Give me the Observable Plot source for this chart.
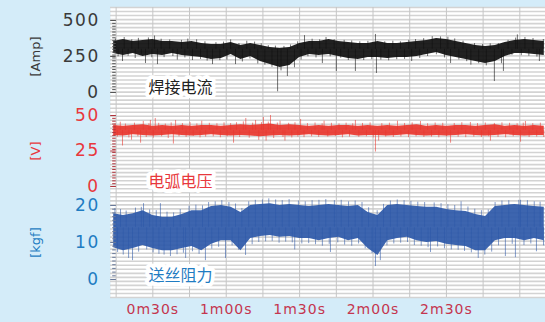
<!DOCTYPE html>
<html><head><meta charset="utf-8">
<script src="https://cdn.jsdelivr.net/npm/d3@7"></script>
<script src="https://cdn.jsdelivr.net/npm/@observablehq/plot@0.6"></script>
<style>
html,body{margin:0;padding:0;background:#d4ecf9;}
#chart{position:relative;width:545px;height:322px;background:#d4ecf9;overflow:hidden;}
#chart svg{position:absolute;left:0;top:0;}
</style></head><body><div id="chart"></div>
<script>
// ---- data (time in seconds) ----
const times = [14,18,22,26,30,34,38,42,46,50,54,58,62,66,70,74,78,82,86,90,94,98,102,106,110,114,118,122,126,130,134,138,142,146,150,154,158,162,166,170,174,178,182,186,190];

// welding current [Amp]: envelope + spikes
const currentHi = [354,368,354,361,368,354,354,347,354,340,333,333,347,326,340,326,312,306,312,340,354,354,368,354,347,340,340,354,340,340,347,354,361,375,368,354,340,326,319,326,347,361,368,361,354];
const currentLo = [271,257,271,250,264,257,271,257,250,243,229,236,264,229,250,215,194,174,188,243,264,257,264,250,236,229,243,243,236,243,243,250,264,278,257,243,229,215,201,215,250,271,271,264,257];
const currentSpikes = [[14.7,372],[15.8,248],[17.6,215],[18.3,382],[19.9,252],[21.4,366],[22.8,236],[24.1,376],[25.3,262],[27,201],[28.2,379],[29.6,241],[30.7,392],[31.9,194],[33.4,370],[34.6,242],[36.9,365],[38.2,250],[40,225],[41.7,362],[43.1,240],[44.3,371],[46.2,222],[47.9,366],[49.5,230],[51.3,352],[52.2,218],[54.4,194],[55.8,346],[57.4,221],[58.9,350],[60.3,225],[61.8,365],[63.8,194],[65.2,340],[66.6,212],[68.4,356],[69.7,233],[71.6,350],[72.9,198],[74.3,338],[75.8,190],[77.2,325],[78.7,175],[80.1,322],[81,5],[82.4,150],[83.6,320],[85,111],[86.3,330],[87.9,172],[89.2,352],[90.6,226],[92,395],[93.4,248],[95.1,370],[96.7,240],[98.2,366],[99.3,201],[100.8,382],[102.5,248],[104.1,367],[105,146],[106.8,238],[108.2,362],[109.9,222],[111.3,358],[112.8,146],[114.6,352],[116.2,222],[117.9,355],[119.5,228],[121,403],[121.4,132],[123.2,225],[124.8,352],[126.4,220],[128.1,356],[129.7,228],[131.2,352],[132.9,230],[134.6,362],[135.8,215],[137.4,368],[139.1,236],[140.7,374],[142.3,250],[144.2,388],[145.9,262],[147.6,386],[149.2,240],[150.6,384],[151.7,201],[153.4,372],[155.1,226],[156.8,356],[158.3,214],[160,190],[161.5,340],[163.2,200],[164.8,333],[166.3,185],[167.9,338],[169.6,76],[171.2,340],[172.5,200],[173.3,146],[175.2,362],[176.8,258],[178.3,378],[179,400],[180.6,256],[182.1,382],[183.7,252],[185.4,375],[187,246],[188,215],[189.6,368]];
const currentLevel = 300;

// arc voltage [V]
const voltHi = [43,42.5,43,43.5,42.5,43,42.5,43,42.5,43,43,42.5,43,43.5,43,43.5,44,43,43.5,43,42.5,43,42.5,43,43,42.5,43,42.5,43,42.5,43,43.5,42.5,43,42.5,43,43,42.5,43,43.5,42.5,43,42.5,43,42.5];
const voltLo = [36,35.5,36.5,36,35.5,36,36.5,36,35.5,36,36.5,36,35.5,36,35.5,35,35.5,36,35.5,36,36.5,36,35.5,36,36.5,35.5,36,36,35.5,36,36.5,36,35.5,36,35.5,36,36.5,36,35.5,36,36.5,36,35.5,36,36];
const voltSpikes = [[14.6,44.2],[15.5,34.8],[16.7,45.3],[17.6,28.5],[18.8,44],[20.2,34.2],[21.3,32.6],[22.5,44.6],[23.9,35],[25,30.5],[26.1,45.8],[27.3,34.5],[28.4,44.2],[29,46.5],[30.2,34],[31,47.9],[32.4,44.5],[33.6,35],[35.1,44],[36.3,33.8],[37.5,44.8],[38.4,29.9],[39.3,46.5],[40.7,35],[42.1,44.3],[43.6,34.6],[45.2,45],[46.5,35.2],[48,44.1],[49.3,34.2],[50,46],[51.6,34.8],[53.1,44.5],[54.7,35],[56.2,44.2],[57.6,34.3],[59.1,44.8],[60.4,35],[61.8,44.3],[63,30.5],[64.2,44.9],[65.5,34.5],[67,45.5],[68,47.9],[69.4,34],[70.8,44.6],[72,46.5],[73.3,32.5],[74.4,45],[75.2,48.6],[76.3,32],[77.2,45.4],[78.1,50],[79.4,33.8],[80.9,44.7],[82,46],[83.2,34.5],[84,32],[85.5,44.5],[86.8,34.2],[88.1,44.9],[89.3,34.8],[90.4,47.2],[91.8,34.4],[93.2,44.3],[94.9,35],[96.3,44.7],[97.8,34.6],[99.2,44.2],[100,46],[101.5,34.8],[103,44.5],[104.6,35.2],[106.1,44.1],[107.5,34.3],[109,44.6],[110.4,34.8],[111.7,44.2],[112.8,46.5],[114.2,34.6],[115.7,44.4],[117.3,35],[118.8,44.8],[120.1,34.2],[121,24.3],[122.3,32],[123.6,44.3],[125.2,34.8],[126.7,44.6],[128.3,34.5],[130,46],[131.4,34.9],[132.9,44.4],[134.5,34.4],[136,44.8],[137.6,35],[139.4,45.8],[140.8,34.5],[142.3,44.2],[143.9,34.8],[145.4,44.7],[146.9,34.3],[148.5,44.5],[150.1,35],[151.7,30.5],[153.2,44.4],[154.8,34.7],[156.3,44.9],[157.9,34.4],[159.8,45.1],[161.2,34.8],[162.7,44.3],[164.3,34.5],[165.9,44.7],[167.3,35],[168,32],[169.6,44.4],[171.1,34.6],[172.7,44.8],[174.2,34.3],[175.8,44.5],[177.3,35],[178.9,44.2],[180.3,31.2],[181.4,44.6],[182.3,45.8],[183.8,34.5],[185.3,44.3],[186.9,34.8],[188.4,44.6],[189.8,34.5]];
const voltLevel = 39.5;

// wire feed resistance [kgf]
const forceHi = [17.8,17.3,17.8,18.6,17.3,16.8,16.8,17.6,18.6,18.6,19.7,20,19.5,18.1,20,20.3,20.5,20,20.3,20,19.7,20,20.3,20,19.7,20,18.1,17.3,20,20.3,20,19.7,19.5,19.5,18.9,18.6,18.4,17.6,17,19.7,20,20.3,20,19.7,19.5];
const forceLo = [8.6,7.8,8.4,9.2,8.4,7.8,7.8,8.4,8.9,7.8,9.5,10.5,10.5,7.8,11.1,11.6,11.9,11.4,11.6,11.1,11.1,10.5,11.1,11.4,10.5,11.1,8.4,6.5,10.5,11.1,11.4,10.5,10,10.3,9.5,9.2,8.9,7.8,7.8,10.5,11.1,11.1,10.5,11.1,10.5];
const forceSpikes = [[14.5,19.2],[15.6,7.3],[16.8,18.9],[17.9,6.6],[19.1,18.5],[20.1,5.7],[21.7,5.1],[22.9,19.3],[24.2,7.4],[25.3,19.5],[26.2,20.5],[27.5,8],[28.7,18.8],[30.1,7.2],[31.4,18.6],[32.5,6.8],[33.1,20.5],[34.6,6.6],[35.8,18.2],[37.2,6.2],[38.5,18],[39.9,6.7],[41.2,18.9],[42.5,7.1],[43.4,5.7],[44.8,19.8],[46.2,7.5],[47.6,20.1],[48.9,6.8],[50.3,19.9],[51.5,5.1],[52.8,20.8],[54.1,8.2],[55.5,21],[56.9,8.7],[58.2,21.3],[59.7,5.7],[61.1,20.8],[62.4,9.1],[63.8,20.4],[65.1,7.9],[66.4,19.2],[67.9,6.5],[69.2,21],[70.6,9.4],[71.9,21.4],[73.3,10],[74.8,21.5],[76.1,10.2],[77.4,21.8],[78.8,10.3],[80.2,21.5],[81.6,9.8],[82.9,21.3],[84.3,10.1],[85.7,21.6],[87,9.9],[88,8],[89.5,21.2],[90.9,9.6],[92.3,21],[93.7,9.7],[95.1,21.3],[96.5,9.4],[97.9,21.4],[99.3,9],[100.7,21.6],[102.1,9.5],[102.6,7.3],[104.2,21.3],[105.6,9.9],[107,21.4],[108.4,9.3],[110,21],[111.3,9],[112.7,21.2],[114.1,9.6],[115.5,20.8],[116.8,8.3],[118.2,19.4],[119.6,7],[121,3.5],[121.7,18.6],[123,5.1],[124.3,20.3],[125.7,9.1],[127.1,21.2],[128.5,9.6],[129.9,21.5],[131.3,9.8],[132.7,21.3],[134.1,10],[135.5,21.1],[136.9,9.2],[138.3,20.9],[139.7,9],[141.1,20.8],[142.5,8.6],[143.5,7.3],[145,20.7],[146.4,8.8],[147.8,20.5],[149.2,8.3],[150.6,20.2],[152,8],[153.4,20],[154.8,7.9],[156,21],[157.4,7.6],[158.8,19.6],[160.2,7.2],[161.6,19],[163,5.7],[164.3,18.6],[165.7,6.6],[167.1,18.8],[168.5,7.4],[169.9,20.8],[171.3,9.1],[172.7,21.2],[174.1,6.2],[175.5,21.3],[176.9,9.5],[178.2,5.9],[179.6,21.4],[180.3,21.4],[181.7,9.2],[183.1,21.3],[184.5,9.6],[185.9,21],[186.8,7.5],[188.3,20.9],[189.7,9.1]];
const forceLevel = 14;

const xTicks = [30, 60, 90, 120, 150];
const xTickLabels = ["0m30s", "1m00s", "1m30s", "2m00s", "2m30s"];
const gridTimes = [15,30,45,60,75,90,105,120,135,150,165,180];

const ampTicks = [0, 250, 500];
const voltTicks = [0, 25, 50];
const forceTicks = [0, 10, 20];
const units = ["[Amp]", "[V]", "[kgf]"];
const names = ["焊接电流", "电弧电压", "送丝阻力"];

// ---- layout ----
const W = 545, H = 322, ML = 110;
const X_DOMAIN = [12.7, 190.5];

const rowsOf = (hi, lo) => times.map((t, i) => ({t, hi: hi[i], lo: lo[i]}));
const spikesOf = s => s.map(([t, v]) => ({t, v}));

const base = Plot.plot({
  width: W, height: H, marginLeft: ML, marginRight: 0, marginTop: 7, marginBottom: 25,
  style: {background: "transparent", fontFamily: "DejaVu Sans, sans-serif"},
  x: {domain: X_DOMAIN, axis: null},
  y: {domain: [0, 72], axis: null},
  marks: [
    Plot.frame({fill: "white", stroke: "none"}),
    Plot.gridY({ticks: 72, stroke: "#d3d3d3", strokeOpacity: 1, strokeWidth: 1.6}),
    Plot.gridX(gridTimes, {stroke: "#c6c6c6", strokeOpacity: 1, strokeWidth: 1}),
    Plot.axisX(xTicks, {tickSize: 0, tickPadding: 7, label: null,
      tickFormat: d => xTickLabels[xTicks.indexOf(d)],
      fill: "#c4364f", fontSize: 14, fontFamily: "DejaVu Sans"})
  ]
});

function panel(cfg) {
  return Plot.plot({
    width: W, height: H, marginLeft: ML, marginRight: 0,
    marginTop: cfg.top, marginBottom: H - cfg.bottom,
    style: {background: "transparent", fontFamily: "DejaVu Sans, sans-serif", overflow: "visible"},
    x: {domain: X_DOMAIN, axis: null},
    y: {domain: [0, cfg.max], axis: null, label: null},
    marks: [
      Plot.ruleX(cfg.spikes, {x: "t", y1: cfg.level, y2: "v", stroke: cfg.color, strokeWidth: 0.9, strokeOpacity: 0.65}),
      Plot.areaY(cfg.rows, {x: "t", y1: "lo", y2: "hi", fill: cfg.color, fillOpacity: 0.92}),
      Plot.axisY(d3.range(0, cfg.max + 1e-9, cfg.minorStep), {anchor: "left", tickSize: 3.5, dx: 5.7,
        stroke: cfg.tickColor, tickFormat: () => "", label: null}),
      Plot.axisY(cfg.ticks, {anchor: "left", tickSize: 5.5, tickPadding: 11, dx: 5.7, label: null,
        stroke: cfg.tickColor, fill: cfg.labelColor, fontSize: 17, fontFamily: "DejaVu Sans"}),
      Plot.text([cfg.unit], {frameAnchor: "left", dx: -75, rotate: -90, textAnchor: "middle",
        fill: cfg.labelColor, fontSize: 13, fontFamily: "DejaVu Sans"}),
      Plot.text([cfg.name], {frameAnchor: "bottom-left", dx: 38, dy: cfg.nameDy, textAnchor: "start",
        lineAnchor: "middle", fill: cfg.nameColor, fontSize: 16, fontFamily: "Noto Sans CJK SC",
        stroke: "white", strokeWidth: 8})
    ]
  });
}

const p1 = panel({top: 20, bottom: 92, max: 500, minorStep: 20, ticks: ampTicks,
  rows: rowsOf(currentHi, currentLo), spikes: spikesOf(currentSpikes), level: currentLevel,
  color: "#0e0e0e", tickColor: "#555", labelColor: "#3a3a3a", unit: units[0],
  name: names[0], nameColor: "#222", nameDy: -5});
const p2 = panel({top: 115, bottom: 186, max: 50, minorStep: 2, ticks: voltTicks,
  rows: rowsOf(voltHi, voltLo), spikes: spikesOf(voltSpikes), level: voltLevel,
  color: "#e8352c", tickColor: "#b0343c", labelColor: "#e8383d", unit: units[1],
  name: names[1], nameColor: "#e8383d", nameDy: -5});
const p3 = panel({top: 205, bottom: 279, max: 20, minorStep: 1, ticks: forceTicks,
  rows: rowsOf(forceHi, forceLo), spikes: spikesOf(forceSpikes), level: forceLevel,
  color: "#2c58a8", tickColor: "#6a7a9a", labelColor: "#1f7cc2", unit: units[2],
  name: names[2], nameColor: "#1f7cc2", nameDy: -4});

const chart = document.getElementById("chart");
chart.append(base, p1, p2, p3);
for (const svg of [p1, p2, p3]) {
  d3.select(svg).selectAll('g[aria-label="y-axis tick label"] text').style("letter-spacing", "1.5px");
}
d3.select(base).selectAll('g[aria-label="x-axis tick label"] text').style("letter-spacing", "1px");
</script></body></html>
